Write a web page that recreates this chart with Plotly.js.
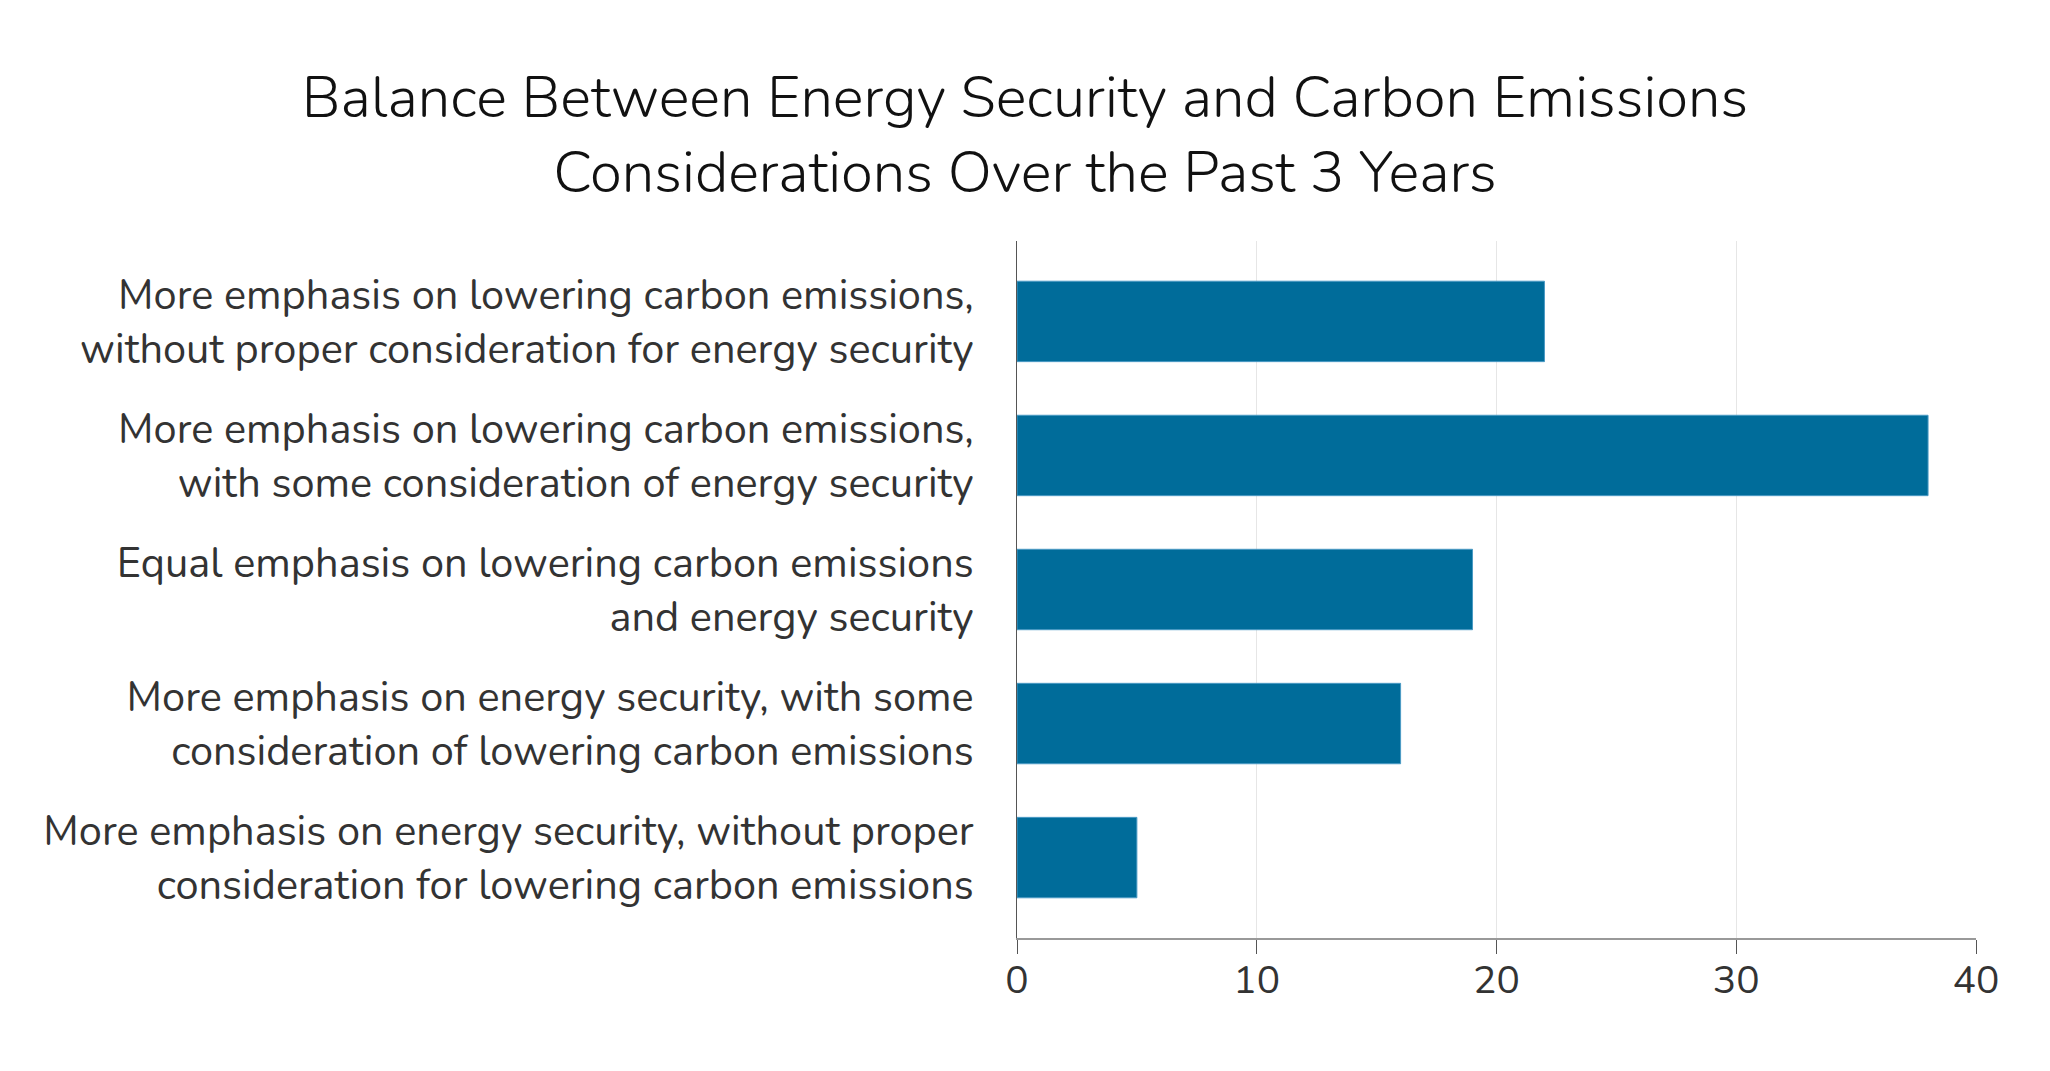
<!DOCTYPE html>
<html>
<head>
<meta charset="utf-8">
<script src="https://cdn.plot.ly/plotly-3.0.1.min.js"></script>
<style>
  body { margin: 0; background: #fff; }
  #chart { width: 2050px; height: 1071px; }
</style>
</head>
<body>
<div id="chart"></div>
<script>
var categories = [
  'More emphasis on lowering carbon emissions,<br>without proper consideration for energy security',
  'More emphasis on lowering carbon emissions,<br>with some consideration of energy security',
  'Equal emphasis on lowering carbon emissions<br>and energy security',
  'More emphasis on energy security, with some<br>consideration of lowering carbon emissions',
  'More emphasis on energy security, without proper<br>consideration for lowering carbon emissions'
];

var shares = [22, 38, 19, 16, 5];

var xTicks = [0, 10, 20, 30, 40];

var barColour = '#006c9a';
var fontFamily = 'Nunito, "Open Sans", Lato, sans-serif';

var trace = {
  type: 'bar',
  orientation: 'h',
  x: shares,
  y: categories,
  marker: {color: barColour, line: {color: '#4a9ac4', width: 1}},
  hoverinfo: 'x+y',
  showlegend: false
};

var layout = {
  width: 2050,
  height: 1071,
  margin: {l: 1017, r: 74, t: 241, b: 133},
  paper_bgcolor: '#fff',
  plot_bgcolor: '#fff',
  bargap: 0.4,
  font: {family: fontFamily, color: '#333', size: 40},
  title: {
    text: 'Balance Between Energy Security and Carbon Emissions<br>Considerations Over the Past 3 Years',
    font: {family: fontFamily, size: 58, color: '#111', weight: 300},
    x: 0.5,
    xanchor: 'center',
    y: 0.891,
    yanchor: 'middle'
  },
  xaxis: {
    range: [0, 40],
    tickvals: xTicks,
    ticks: 'outside',
    ticklen: 14,
    tickcolor: '#555',
    tickwidth: 1,
    ticklabelstandoff: -8,
    showline: true,
    linecolor: '#999',
    linewidth: 2,
    showgrid: true,
    gridcolor: '#e6e6e6',
    gridwidth: 1,
    zeroline: false,
    tickfont: {size: 39, color: '#333'}
  },
  yaxis: {
    type: 'category',
    range: [4.6, -0.6],
    showline: true,
    linecolor: '#555',
    linewidth: 1,
    ticks: '',
    ticklabelstandoff: 34,
    showgrid: false,
    zeroline: false,
    tickfont: {size: 41.5, color: '#333'}
  }
};

Plotly.newPlot('chart', [trace], layout, {displayModeBar: false, staticPlot: true});
</script>
</body>
</html>
